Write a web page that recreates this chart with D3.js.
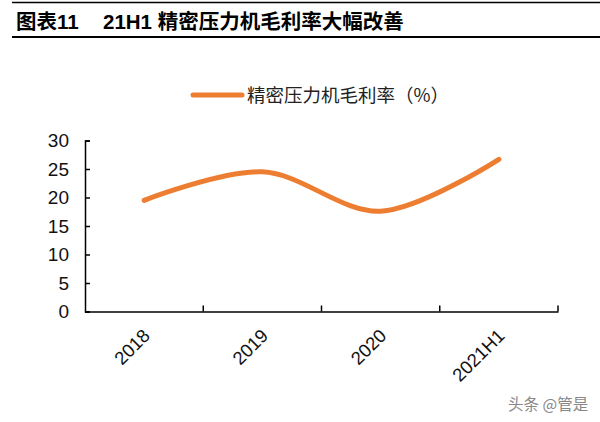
<!DOCTYPE html>
<html><head><meta charset="utf-8">
<script src="https://cdn.jsdelivr.net/npm/d3@7"></script>
<style>body{margin:0;background:#fff}svg{display:block}</style>
</head><body>
<svg id="c" width="600" height="422"></svg>
<script>
const categories = ["2018", "2019", "2020", "2021H1"];
const margin = [19.5, 24.5, 17.6, 26.7];
const yTicks = [0, 5, 10, 15, 20, 25, 30];
const seriesName = "精密压力机毛利率（%）";
const titleLeft = "图表11";
const titleRight = "21H1 精密压力机毛利率大幅改善";
const watermark = "头条 @管是";

const svg = d3.select("#c");
const font = "Arial, 'Liberation Sans', 'Noto Sans CJK SC', sans-serif";
const orange = "#ED7D31";

// title
svg.append("line").attr("x1",12).attr("x2",600).attr("y1",2.5).attr("y2",2.5).attr("stroke","#000").attr("stroke-width",1.5);
svg.append("line").attr("x1",12).attr("x2",600).attr("y1",37).attr("y2",37).attr("stroke","#000").attr("stroke-width",2.2);
svg.append("text").attr("x",16).attr("y",29).attr("font-family",font).attr("font-weight","bold").attr("font-size",20.5).text(titleLeft);
svg.append("text").attr("x",103).attr("y",29).attr("font-family",font).attr("font-weight","bold").attr("font-size",20.5).text(titleRight);

// scales
const x = d3.scaleBand().domain(categories).range([85, 558]);
const y = d3.scaleLinear().domain([0, 30]).range([311.5, 140.5]);

// y axis
const ya = svg.append("g").attr("transform","translate(85,0)")
  .call(d3.axisLeft(y).tickValues(yTicks).tickSizeInner(-5).tickSizeOuter(-5).tickPadding(16));
ya.selectAll("path,line").attr("stroke","#000").attr("stroke-width",1.5);
ya.selectAll("text").attr("font-family",font).attr("font-size",19).attr("fill","#111");

// x axis
const xa = svg.append("g").attr("transform","translate(0,311.5)")
  .call(d3.axisBottom(x).tickSize(0).tickSizeOuter(0));
xa.select("path").attr("stroke","#000").attr("stroke-width",1.5);
const bounds = categories.map(c => x(c)).concat([x.range()[1]]).slice(1);
svg.append("g").selectAll("line").data(bounds).join("line")
  .attr("x1",d=>d).attr("x2",d=>d).attr("y1",311.5).attr("y2",305.5)
  .attr("stroke","#000").attr("stroke-width",1.5);
xa.selectAll("text").remove();
svg.append("g").selectAll("text").data(categories).join("text")
  .attr("font-family",font).attr("font-size",18.5).attr("fill","#111")
  .attr("text-anchor","end")
  .attr("transform",d=>`translate(${x(d)+x.bandwidth()/2+7},${337}) rotate(-45)`)
  .text(d=>d);

// line
const line = d3.line().x((d,i)=>x(categories[i])+x.bandwidth()/2).y(d=>y(d)).curve(d3.curveCatmullRom.alpha(0.5));
svg.append("path").datum(margin).attr("d",line).attr("fill","none")
  .attr("stroke",orange).attr("stroke-width",5).attr("stroke-linecap","round");

// legend
svg.append("line").attr("x1",193).attr("x2",242).attr("y1",95).attr("y2",95).attr("stroke",orange).attr("stroke-width",5).attr("stroke-linecap","round");
svg.append("text").attr("x",247).attr("y",102).attr("font-family","'Noto Sans CJK SC', sans-serif").attr("font-size",18.5).attr("fill","#222").text(seriesName);

// watermark
svg.append("text").attr("x",508).attr("y",410).attr("font-family","'Noto Sans CJK SC', sans-serif").attr("font-size",15.5).attr("fill","#888").text(watermark);
</script>
</body></html>
